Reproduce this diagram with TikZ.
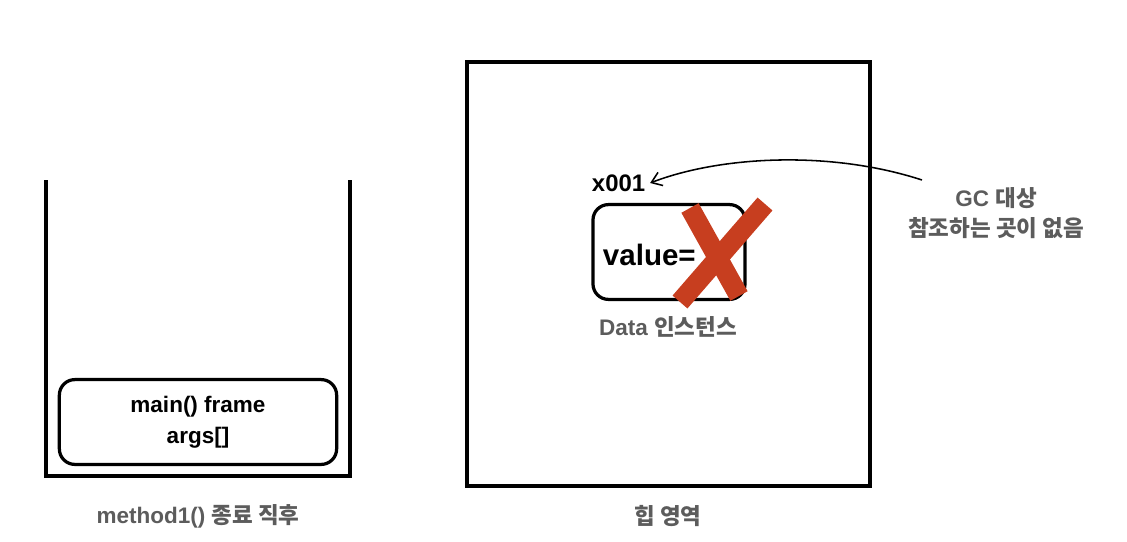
\documentclass[tikz,border=0pt]{standalone}
\usepackage{fontspec}
\setmainfont{Liberation Sans}
\newfontfamily\kr{Noto Sans CJK KR}
\usetikzlibrary{arrows.meta}
\definecolor{labelgray}{HTML}{5C5C5C}
\definecolor{crossred}{HTML}{C73E1F}
\tikzset{
  wall/.style={line width=2.2pt},
  slot/.style={draw, line width=2.3pt, rounded corners=11pt},
  caption/.style={text=labelgray, font=\fontsize{16}{21}\selectfont\bfseries},
  cross/.style={crossred, line width=14pt},
}
\begin{document}
\begin{tikzpicture}[x=0.025cm, y=-0.025cm]
  \useasboundingbox (0,0) rectangle (1127,541);
  % stack
  \draw[wall] (46,180) -- (46,476) -- (350,476) -- (350,180);
  \node[slot, minimum width=6.93cm, minimum height=2.12cm, align=center,
    font=\fontsize{16}{22}\selectfont\bfseries] (main) at (198,422) {main() frame\\args[]};
  \node[caption] (stacklabel) at (198,516) {method1() {\kr 종료 직후}};
  % heap
  \draw[wall] (467,62) rectangle (870,486);
  \node[caption] (heaplabel) at (668,516) {\kr 힙 영역};
  \node[font=\fontsize{17}{20}\selectfont\bfseries, anchor=west] (addr) at (587,183) {x001};
  \node[slot, minimum width=3.8cm, minimum height=2.37cm] (data) at (669,252) {};
  \node[font=\fontsize{21}{24}\selectfont\bfseries, anchor=west] (value) at (598,255) {value=};
  \draw[cross] (690,208) -- (739,296);
  \draw[cross] (765,204) -- (680,302);
  \node[caption] (datalabel) at (668,327) {Data {\kr 인스턴스}};
  % gc
  \node[caption, align=center] (gc) at (996,213) {GC {\kr 대상}\\{\kr 참조하는 곳이 없음}};
  \coordinate (gcstart) at (922,180);
  \draw[line width=1.1pt, -{Straight Barb[length=7pt, width=10pt]}]
    (gcstart) .. controls (830,150) and (720,156) .. (addr.east);
\end{tikzpicture}
\end{document}
